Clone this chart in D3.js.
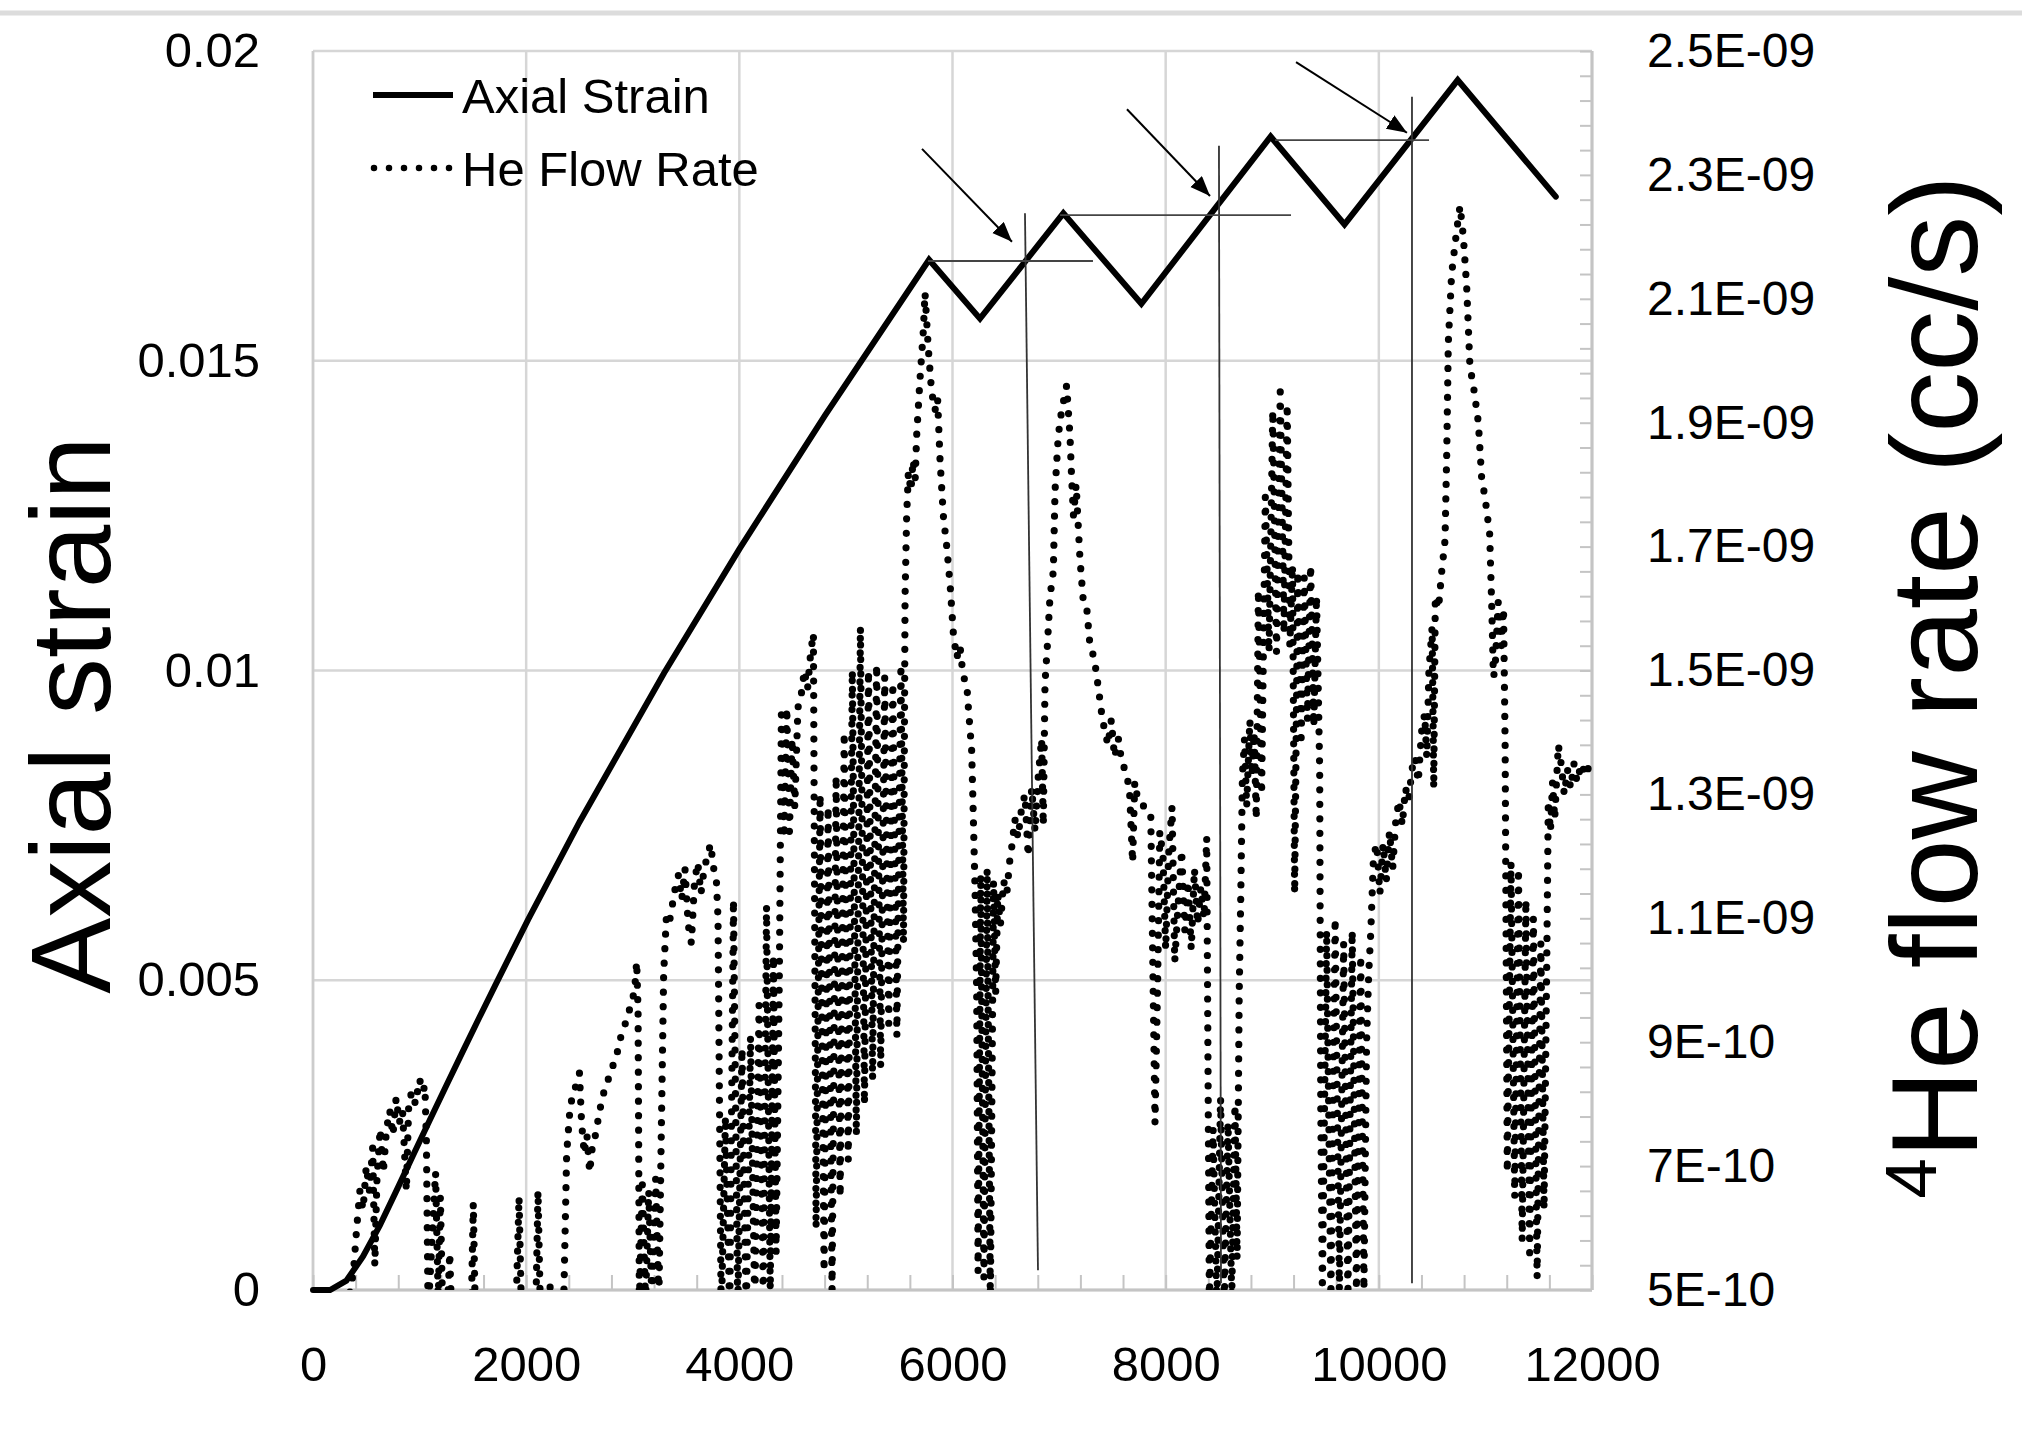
<!DOCTYPE html>
<html><head><meta charset="utf-8">
<script src="https://cdn.jsdelivr.net/npm/d3@7/dist/d3.min.js"></script>
<style>
html,body{margin:0;padding:0;background:#fff;}
svg text{font-family:"Liberation Sans",Arial,sans-serif;fill:#000;}
</style></head><body>
<svg id="chart" width="2022" height="1435"></svg>
<script>
// ---------- data ----------
const seriesNames = ["Axial Strain", "He Flow Rate"];
const timeTicks = [0, 2000, 4000, 6000, 8000, 10000, 12000];
const strainTicks = [0, 0.005, 0.01, 0.015, 0.02];
const strainTickLabels = ["0", "0.005", "0.01", "0.015", "0.02"];
// flow-rate axis in units of 1e-10 cc/s
const flowTicks = [5, 7, 9, 11, 13, 15, 17, 19, 21, 23, 25];
const flowTickLabels = ["5E-10","7E-10","9E-10","1.1E-09","1.3E-09","1.5E-09","1.7E-09","1.9E-09","2.1E-09","2.3E-09","2.5E-09"];

const strainTime  = [0, 160, 313, 469, 626, 782, 938, 1095, 1251, 1408, 1564, 1705, 2018, 2502, 3294, 4000, 4804, 5780, 6258, 7040, 7772, 8985, 9678, 10740, 11660];
const strainValue = [0, 0, 0.00015, 0.00054, 0.00104, 0.0016, 0.00217, 0.00274, 0.0033, 0.00386, 0.00441, 0.0049, 0.00598, 0.00756, 0.00996, 0.01196, 0.01412, 0.01663, 0.01568, 0.01738, 0.01592, 0.01862, 0.0172, 0.01953, 0.01765];

// [time, He flow rate (x1e-10 cc/s)]
const heFlowPoints = [[0,3.5],[300,4.2],[340,4.9],[380,5.3],[410,6.0],[440,6.6],[470,6.3],[500,7.0],[530,6.6],[560,7.3],[580,5.4],[600,6.8],[630,7.6],[660,6.9],[690,7.6],[720,7.9],[750,7.5],[780,8.1],[810,7.7],[840,7.9],[876,6.6],[900,8.1],[938,8.2],[960,8.0],[1000,8.4],[1030,8.2],[1050,8.3],[1064,7.4],[1080,4.6],[1150,6.9],[1175,4.8],[1195,6.5],[1215,4.8],[1260,4.6],[1283,5.6],[1300,4.6],[1400,4.2],[1485,4.7],[1504,6.4],[1522,4.7],[1700,4.0],[1905,4.7],[1933,6.5],[1955,4.7],[2000,4.4],[2092,4.8],[2111,6.6],[2132,4.8],[2200,4.8],[2221,5.1],[2240,4.8],[2350,4.6],[2380,7.2],[2410,7.9],[2440,8.2],[2470,8.3],[2500,8.5],[2520,7.7],[2545,7.2],[2570,7.5],[2596,6.9],[2620,7.3],[2650,7.5],[2690,7.9],[2730,8.2],[2770,8.4],[2810,8.6],[2850,8.8],[2890,9.1],[2930,9.3],[2965,9.5],[3000,9.7],[3020,9.9],[3037,10.3],[3050,9.5],[3062,4.8],[3090,6.7],[3120,4.8],[3150,6.6],[3180,4.8],[3215,6.8],[3245,4.8],[3270,7.8],[3290,10.1],[3315,11.0],[3340,10.9],[3370,11.2],[3410,11.6],[3430,11.7],[3460,11.3],[3490,11.8],[3520,10.9],[3550,10.6],[3580,11.6],[3610,11.9],[3640,11.4],[3670,11.8],[3700,12.0],[3730,12.2],[3760,11.8],[3785,11.6],[3800,11.0],[3830,4.5],[3870,7.8],[3910,4.6],[3945,11.3],[3985,4.6],[4025,8.9],[4065,4.6],[4105,9.1],[4145,4.7],[4185,9.6],[4225,4.8],[4255,11.2],[4290,5.0],[4320,10.4],[4345,5.6],[4375,10.0],[4395,14.4],[4420,12.3],[4445,14.4],[4470,12.4],[4495,13.9],[4520,12.8],[4550,14.4],[4580,14.6],[4610,15.0],[4640,14.7],[4670,15.3],[4695,15.6],[4720,6.0],[4758,13.0],[4795,5.3],[4833,12.8],[4870,5.0],[4908,13.3],[4946,6.5],[4984,14.0],[5022,7.1],[5060,15.0],[5098,7.5],[5136,15.7],[5174,8.0],[5212,15.0],[5250,8.4],[5288,15.1],[5326,8.6],[5364,14.9],[5402,9.3],[5440,14.8],[5478,9.1],[5516,15.1],[5540,10.6],[5555,16.2],[5570,17.5],[5586,18.2],[5610,17.9],[5630,18.4],[5650,18.1],[5664,18.8],[5695,19.7],[5727,20.5],[5742,21.1],[5773,20.2],[5804,19.5],[5836,19.2],[5860,19.4],[5883,18.4],[5914,17.5],[5946,17.0],[5977,16.4],[6008,15.6],[6039,15.2],[6070,15.4],[6100,14.9],[6133,14.8],[6149,14.4],[6180,13.7],[6196,12.6],[6211,11.5],[6227,9.8],[6240,5.3],[6265,11.7],[6295,5.2],[6325,11.8],[6355,4.8],[6385,11.6],[6405,9.8],[6425,11.4],[6450,10.9],[6480,11.6],[6510,11.4],[6535,11.9],[6560,12.2],[6585,12.6],[6615,12.3],[6650,12.8],[6680,13.0],[6710,12.0],[6743,13.1],[6775,12.4],[6805,13.3],[6836,13.9],[6852,12.5],[6868,14.8],[6890,15.4],[6915,16.2],[6946,16.6],[6962,17.9],[6993,18.8],[7024,19.2],[7048,19.4],[7071,19.6],[7102,18.8],[7118,18.1],[7135,17.5],[7160,18.0],[7196,16.8],[7228,16.1],[7260,16.0],[7290,15.4],[7330,15.2],[7370,14.7],[7400,14.3],[7430,14.0],[7460,13.8],[7490,14.2],[7520,13.6],[7556,13.9],[7590,13.5],[7620,13.4],[7660,13.1],[7690,11.9],[7710,13.2],[7740,12.9],[7800,12.8],[7860,12.7],[7900,7.7],[7925,10.0],[7945,12.4],[7975,12.0],[8000,10.5],[8030,12.1],[8060,12.8],[8085,10.3],[8120,11.3],[8150,12.1],[8180,10.8],[8210,11.6],[8240,10.5],[8270,11.8],[8300,10.9],[8330,11.5],[8360,11.0],[8385,12.3],[8410,4.8],[8445,7.6],[8480,4.7],[8515,8.1],[8550,4.8],[8585,7.7],[8620,4.9],[8650,8.0],[8670,5.5],[8690,9.8],[8705,11.4],[8720,13.3],[8740,13.9],[8760,12.8],[8790,14.2],[8810,13.3],[8830,14.0],[8850,12.6],[8870,16.3],[8900,13.0],[8935,17.8],[8970,15.3],[9005,19.2],[9040,15.3],[9075,19.5],[9110,15.6],[9140,19.3],[9165,15.4],[9190,16.7],[9210,11.4],[9240,16.6],[9270,13.8],[9300,16.5],[9330,14.2],[9360,16.7],[9390,14.1],[9415,16.2],[9435,14.4],[9445,13.4],[9455,8.0],[9470,5.0],[9510,10.8],[9550,4.9],[9590,11.0],[9630,5.0],[9670,10.6],[9710,4.9],[9750,10.8],[9790,5.0],[9830,10.4],[9860,5.0],[9885,9.0],[9905,10.1],[9925,10.8],[9950,12.0],[9980,12.2],[10010,11.4],[10040,12.2],[10070,11.6],[10100,12.4],[10130,11.8],[10160,12.6],[10190,12.9],[10220,12.5],[10250,13.1],[10280,12.9],[10310,13.4],[10340,13.6],[10370,13.2],[10400,14.0],[10430,14.3],[10450,13.6],[10470,15.0],[10500,15.7],[10515,13.1],[10530,16.2],[10560,16.0],[10590,16.6],[10621,17.1],[10637,18.5],[10652,20.3],[10683,21.4],[10730,22.1],[10762,22.5],[10793,22.0],[10824,21.2],[10855,19.9],[10887,19.6],[10934,19.0],[10965,18.1],[10996,17.8],[11040,17.2],[11060,16.0],[11075,14.9],[11090,15.0],[11120,16.1],[11150,15.4],[11170,16.0],[11185,13.8],[11192,11.4],[11205,6.9],[11240,11.9],[11275,6.5],[11310,11.8],[11345,5.8],[11380,11.3],[11415,5.6],[11450,11.0],[11485,5.2],[11520,10.6],[11550,6.3],[11575,10.2],[11590,12.9],[11610,12.4],[11630,13.2],[11650,12.6],[11684,13.8],[11710,13.5],[11740,13.0],[11770,13.4],[11800,13.1],[11830,13.5],[11860,13.2],[11900,13.5],[11940,13.3],[11980,13.5],[12000,13.4]];

// annotation lines in data units [time, strain]
const annotVertical = [[[6680,0.01738],[6802,0.00032]], [[8500,0.01847],[8519,0.00011]], [[10311,0.01926],[10311,0.00011]]];
const annotHorizontal = [[[5770,0.01661],[7318,0.01661]], [[7009,0.01735],[9176,0.01735]], [[9026,0.01856],[10471,0.01856]]];
const annotArrows = [[[5714,0.01842],[6558,0.01692]], [[7637,0.01906],[8416,0.01766]], [[9223,0.01982],[10264,0.01868]]];

// ---------- drawing ----------
const svg = d3.select("#chart");
const L = 313, R = 1592, T = 51, B = 1290;
const x = d3.scaleLinear().domain([0, 12000]).range([L, R]);
const yL = d3.scaleLinear().domain([0, 0.02]).range([B, T]);
const yR = d3.scaleLinear().domain([5, 25]).range([B, T]);

svg.append("rect").attr("width", 2022).attr("height", 1435).attr("fill", "#fff");
// thin frame line at top of picture
svg.append("line").attr("x1", 0).attr("x2", 2022).attr("y1", 13).attr("y2", 13)
  .attr("stroke", "#dcdcdc").attr("stroke-width", 5);

const grid = svg.append("g");
grid.selectAll("line.v").data(timeTicks).join("line")
  .attr("x1", d => x(d)).attr("x2", d => x(d)).attr("y1", T).attr("y2", B)
  .attr("stroke", "#d6d6d6").attr("stroke-width", 2.5);
grid.selectAll("line.h").data(strainTicks).join("line")
  .attr("x1", L).attr("x2", R).attr("y1", d => yL(d)).attr("y2", d => yL(d))
  .attr("stroke", "#d6d6d6").attr("stroke-width", 2.5);

// axis lines
svg.append("line").attr("x1", L).attr("x2", R).attr("y1", B).attr("y2", B).attr("stroke", "#c4c4c4").attr("stroke-width", 3);
svg.append("line").attr("x1", R).attr("x2", R).attr("y1", T).attr("y2", B).attr("stroke", "#c4c4c4").attr("stroke-width", 3);
svg.append("line").attr("x1", L).attr("x2", L).attr("y1", T).attr("y2", B).attr("stroke", "#cccccc").attr("stroke-width", 2.5);

// minor ticks
const xMinor = svg.append("g").attr("transform", `translate(0,${B})`)
  .call(d3.axisBottom(x).tickValues(d3.range(0, 12001, 400)).tickSize(-15).tickFormat(""));
xMinor.select(".domain").remove();
xMinor.selectAll("line").attr("stroke", "#c4c4c4").attr("stroke-width", 2);

const rMinor = svg.append("g").attr("transform", `translate(${R},0)`)
  .call(d3.axisRight(yR).tickValues(d3.range(0, 51).map(i => 5 + i * 0.4)).tickSize(-12).tickFormat(""));
rMinor.select(".domain").remove();
rMinor.selectAll("line").attr("stroke", "#c4c4c4").attr("stroke-width", 2);

// tick labels
const xAx = svg.append("g").attr("transform", `translate(0,${B})`)
  .call(d3.axisBottom(x).tickValues(timeTicks).tickSize(0).tickPadding(56).tickFormat(d3.format("d")));
const lAx = svg.append("g").attr("transform", `translate(${L},0)`)
  .call(d3.axisLeft(yL).tickValues(strainTicks).tickSize(0).tickPadding(53).tickFormat((d, i) => strainTickLabels[i]));
const rAx = svg.append("g").attr("transform", `translate(${R},0)`)
  .call(d3.axisRight(yR).tickValues(flowTicks).tickSize(0).tickPadding(55).tickFormat((d, i) => flowTickLabels[i]));
[xAx, lAx, rAx].forEach(g => {
  g.select(".domain").remove();
  g.selectAll("text").attr("font-size", 49).attr("font-family", '"Liberation Sans",Arial,sans-serif').attr("fill", "#000");
});
rAx.selectAll("text").attr("font-size", 48);

// clip for plot area
svg.append("clipPath").attr("id", "plotClip").append("rect")
  .attr("x", L).attr("y", T - 10).attr("width", R - L).attr("height", B - T + 10);

// He flow rate (dotted)
const heLine = d3.line().x(d => x(d[0])).y(d => yR(d[1]));
svg.append("path").datum(heFlowPoints)
  .attr("clip-path", "url(#plotClip)")
  .attr("d", heLine)
  .attr("fill", "none").attr("stroke", "#000").attr("stroke-width", 7.2)
  .attr("stroke-linecap", "round").attr("stroke-linejoin", "round")
  .attr("stroke-dasharray", "0 14.5");

// axial strain (solid)
const strainData = strainTime.map((t, i) => [t, strainValue[i]]);
const sLine = d3.line().x(d => x(d[0])).y(d => yL(d[1]));
svg.append("path").datum(strainData)
  .attr("d", sLine).attr("fill", "none").attr("stroke", "#000")
  .attr("stroke-width", 6).attr("stroke-linejoin", "miter").attr("stroke-linecap", "round");

// annotations
const defs = svg.append("defs");
defs.append("marker").attr("id", "ah").attr("markerUnits", "userSpaceOnUse")
  .attr("markerWidth", 24).attr("markerHeight", 18).attr("refX", 20).attr("refY", 8)
  .attr("orient", "auto")
  .append("path").attr("d", "M0,0 L20,8 L0,16 Z").attr("fill", "#000");
const ann = svg.append("g");
const seg = d => `M${x(d[0][0])},${yL(d[0][1])}L${x(d[1][0])},${yL(d[1][1])}`;
ann.selectAll("path.v").data(annotVertical).join("path").attr("d", seg)
  .attr("stroke", "#333").attr("stroke-width", 1.8).attr("fill", "none");
ann.selectAll("path.h").data(annotHorizontal).join("path").attr("d", seg)
  .attr("stroke", "#444").attr("stroke-width", 1.8).attr("fill", "none");
ann.selectAll("path.a").data(annotArrows).join("path").attr("d", seg)
  .attr("stroke", "#000").attr("stroke-width", 2).attr("fill", "none").attr("marker-end", "url(#ah)");

// legend
const lg = svg.append("g");
lg.append("line").attr("x1", 373).attr("x2", 453).attr("y1", 95).attr("y2", 95)
  .attr("stroke", "#000").attr("stroke-width", 6);
lg.append("text").attr("x", 462).attr("y", 113).attr("font-size", 49).text(seriesNames[0]);
lg.append("line").attr("x1", 374).attr("x2", 450).attr("y1", 168).attr("y2", 168)
  .attr("stroke", "#000").attr("stroke-width", 6.5).attr("stroke-linecap", "round").attr("stroke-dasharray", "0 15");
lg.append("text").attr("x", 462).attr("y", 186).attr("font-size", 49).text(seriesNames[1]);

// axis titles
svg.append("text").attr("transform", "translate(110,715) rotate(-90)")
  .attr("text-anchor", "middle").attr("font-size", 114).text("Axial strain");
const rt = svg.append("text").attr("transform", "translate(1977,687) rotate(-90)")
  .attr("text-anchor", "middle").attr("font-size", 122);
rt.append("tspan").attr("font-size", 73).attr("dy", -41).text("4");
rt.append("tspan").attr("dy", 41).text("He flow rate (cc/s)");
</script>
</body></html>
